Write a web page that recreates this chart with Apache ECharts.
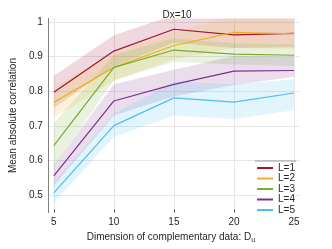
<!DOCTYPE html>
<html><head><meta charset="utf-8">
<script src="https://cdn.jsdelivr.net/npm/echarts@6/dist/echarts.min.js"></script>
<style>html,body{margin:0;padding:0;background:#fff}#c{width:332px;height:249px}</style>
</head><body><div id="c"></div>
<script>
const xValues = [5, 10, 15, 20, 25];
const seriesNames = ['L=1', 'L=2', 'L=3', 'L=4', 'L=5'];
const colors = ['#A2142F', '#EDB120', '#77AC30', '#7E2F8E', '#4DBEEE'];
const mean1 = [0.797, 0.916, 0.979, 0.963, 0.967];
const mean2 = [0.768, 0.869, 0.932, 0.970, 0.966];
const mean3 = [0.643, 0.869, 0.919, 0.907, 0.904];
const mean4 = [0.556, 0.772, 0.820, 0.858, 0.860];
const mean5 = [0.507, 0.701, 0.781, 0.769, 0.795];
const upper1 = [0.845, 0.962, 1.02, 1.02, 1.02];
const lower1 = [0.752, 0.872, 0.940, 0.925, 0.928];
const upper2 = [0.813, 0.910, 0.972, 1.02, 1.02];
const lower2 = [0.724, 0.830, 0.893, 0.925, 0.922];
const upper3 = [0.708, 0.905, 0.953, 0.938, 0.935];
const lower3 = [0.582, 0.832, 0.885, 0.877, 0.873];
const upper4 = [0.586, 0.820, 0.862, 0.902, 0.900];
const lower4 = [0.528, 0.730, 0.785, 0.818, 0.842];
const upper5 = [0.538, 0.735, 0.828, 0.820, 0.835];
const lower5 = [0.478, 0.668, 0.730, 0.720, 0.745];
const yTicks = [0.5, 0.6, 0.7, 0.8, 0.9, 1];

const means = [mean1, mean2, mean3, mean4, mean5];
const uppers = [upper1, upper2, upper3, upper4, upper5];
const lowers = [lower1, lower2, lower3, lower4, lower5];

const chart = echarts.init(document.getElementById('c'));
const font = 'Liberation Sans';
const series = [];
for (let i = 0; i < 5; i++) {
  const up = uppers[i], lo = lowers[i];
  series.push({
    type: 'custom', silent: true, clip: true, z: 1,
    data: [0],
    renderItem: function (params, api) {
      const pts = [];
      for (let k = 0; k < xValues.length; k++) pts.push(api.coord([xValues[k], up[k]]));
      for (let k = xValues.length - 1; k >= 0; k--) pts.push(api.coord([xValues[k], lo[k]]));
      return {
        type: 'polygon',
        shape: { points: pts },
        style: { fill: colors[i], opacity: 0.16 }
      };
    }
  });
}
for (let i = 0; i < 5; i++) {
  series.push({
    name: seriesNames[i], type: 'line', z: 5,
    data: xValues.map((x, k) => [x, means[i][k]]),
    showSymbol: false, symbol: 'none',
    lineStyle: { color: colors[i], width: 1.2 },
    itemStyle: { color: colors[i] },
    emphasis: { disabled: true }
  });
}

chart.setOption({
  animation: false,
  textStyle: { fontFamily: font },
  title: {
    text: 'Dx=10', left: 172, top: 5, textAlign: 'center',
    textStyle: { fontSize: 10, fontWeight: 'normal', color: '#262626', fontFamily: font }
  },
  grid: { left: 43, right: 32, top: 18.5, bottom: 32, containLabel: false },
  xAxis: {
    type: 'value', min: 4.5, max: 25.5, interval: 5,
    axisLine: { show: false },
    axisTick: { show: true, inside: true, length: 3, lineStyle: { color: '#555' }, customValues: xValues },
    axisLabel: { color: '#262626', fontSize: 10, margin: 5, customValues: xValues },
    splitLine: { show: true, lineStyle: { color: '#e6e6e6', width: 1 } },
    name: 'Dimension of complementary data: {b|D}{s|u}',
    nameLocation: 'middle', nameGap: 14,
    nameTextStyle: {
      color: '#262626', fontSize: 10, verticalAlign: 'top', fontFamily: font, padding: [0, 6, 0, 0],
      rich: {
        b: { fontSize: 10, color: '#262626', fontFamily: font },
        s: { fontSize: 7, color: '#262626', verticalAlign: 'bottom', padding: [6, 0, 0, 0], fontFamily: font }
      }
    }
  },
  yAxis: {
    type: 'value', min: 0.45, max: 1.01,
    axisLine: { show: true, lineStyle: { color: '#808080', width: 1 } },
    axisTick: { show: false, customValues: yTicks },
    axisLabel: { color: '#262626', fontSize: 10, margin: 5, customValues: yTicks,
      formatter: v => (Math.abs(v - 1) < 1e-9 ? '1' : v.toFixed(1)) },
    splitLine: { show: true, lineStyle: { color: '#e6e6e6', width: 1 } },
    name: 'Mean absolute correlation',
    nameLocation: 'middle', nameGap: 17,
    nameTextStyle: { color: '#262626', fontSize: 10, fontFamily: font }
  },
  legend: {
    orient: 'vertical', left: 257, top: 163, padding: 0,
    itemWidth: 16, itemHeight: 2, itemGap: 0.5,
    icon: 'rect',
    backgroundColor: '#fff',
    textStyle: { fontSize: 10, color: '#262626', lineHeight: 10, fontFamily: font },
    data: seriesNames
  },
  graphic: [{
    type: 'line', z: 100,
    shape: { x1: 255, y1: 161, x2: 296, y2: 161 },
    style: { stroke: '#999', lineWidth: 1 }
  }],
  series: series
});
</script></body></html>
